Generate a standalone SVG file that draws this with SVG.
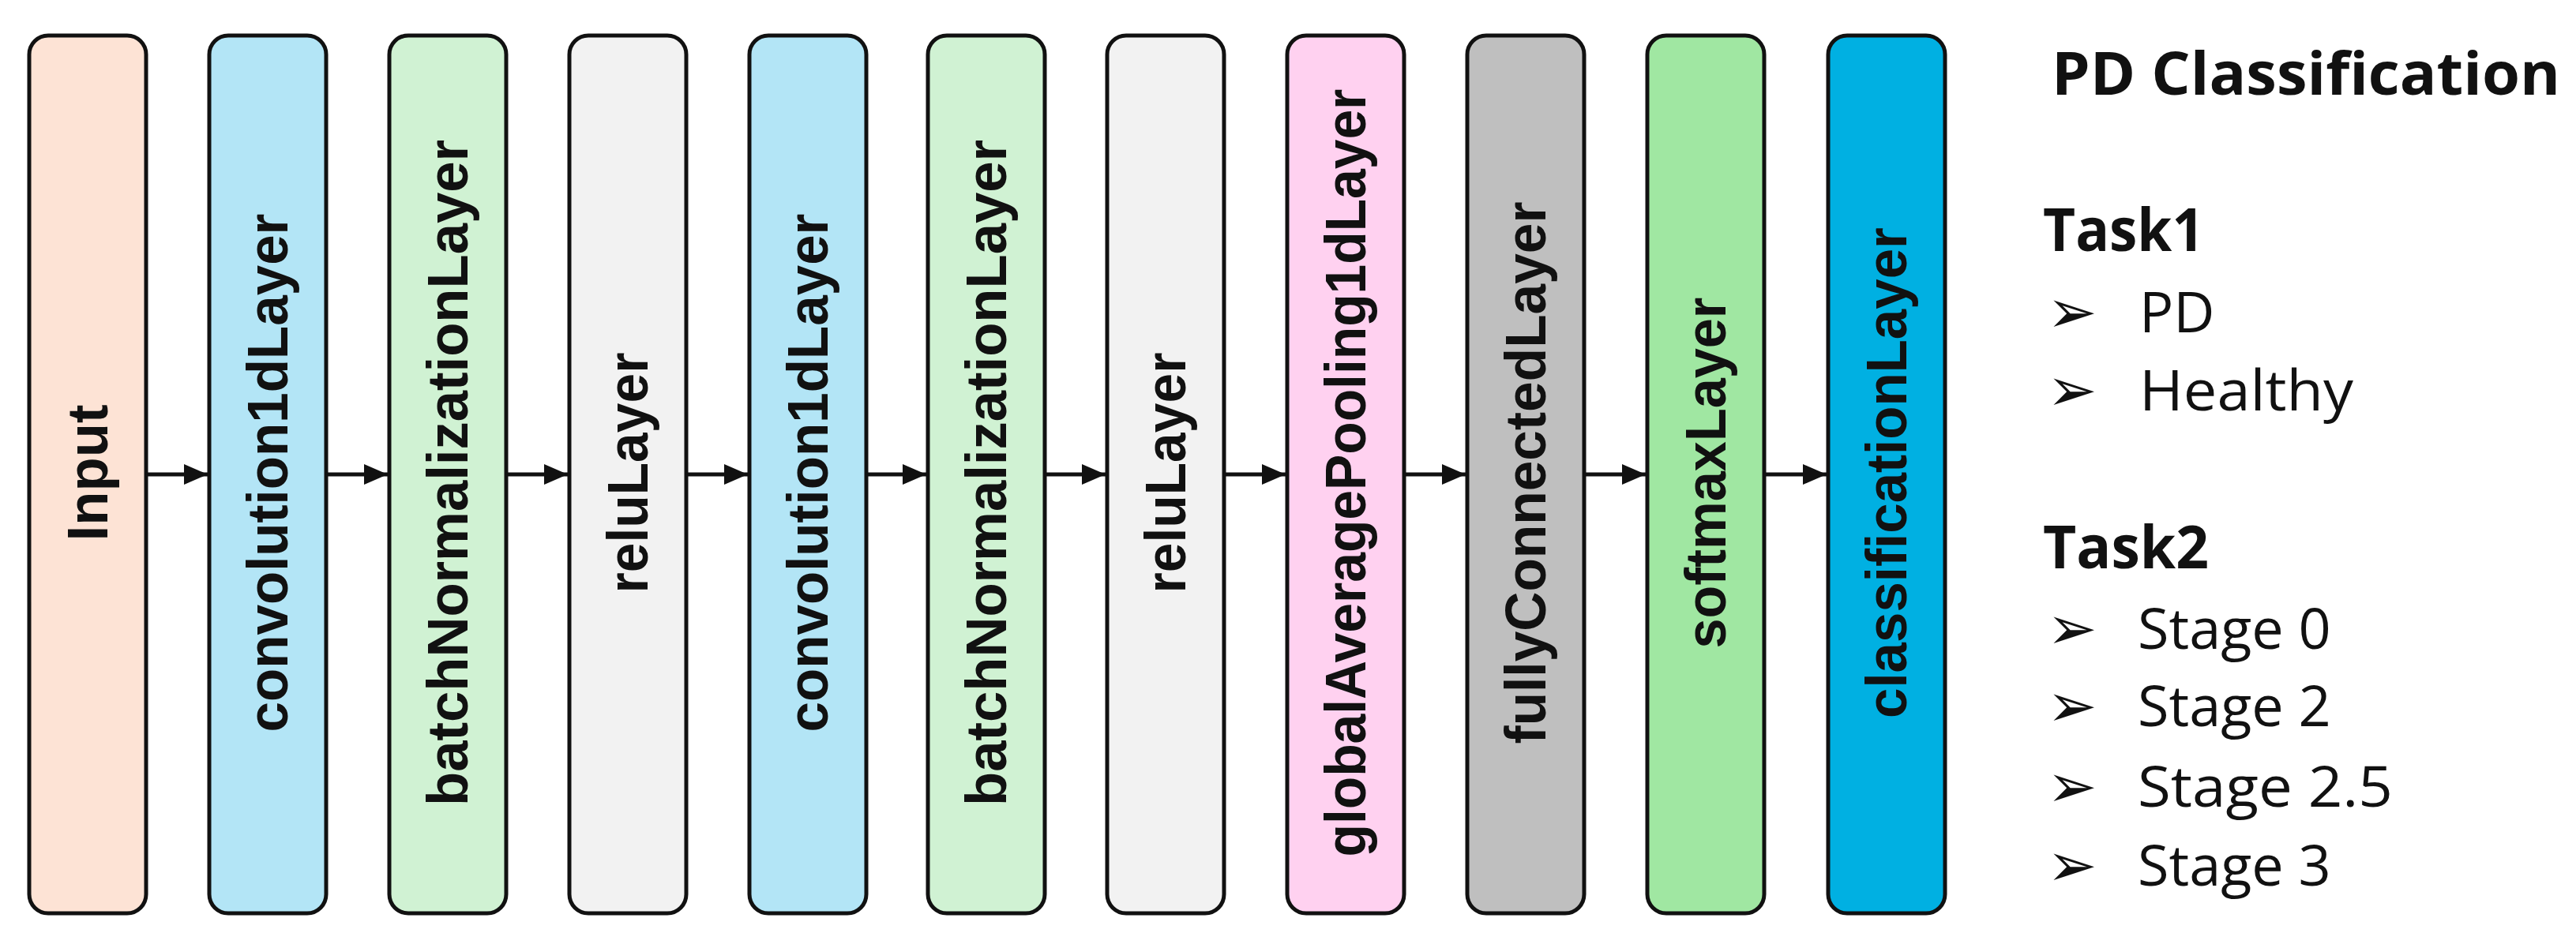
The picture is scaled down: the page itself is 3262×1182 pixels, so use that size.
<svg xmlns="http://www.w3.org/2000/svg" width="3262" height="1182" viewBox="0 0 3262 1182">
<style>
.box{stroke:#111;stroke-width:5}
.lbl{font-family:"Liberation Sans",Arial,sans-serif;font-weight:bold;font-size:72px;fill:#111;text-anchor:middle}
.con{stroke:#111;stroke-width:5;fill:none}
.h{font-family:"Open Sans","Liberation Sans",sans-serif;font-weight:bold;font-size:76px;fill:#111}
.t{font-family:"Open Sans","Liberation Sans",sans-serif;font-size:72px;fill:#111}
.b{font-family:"DejaVu Sans",sans-serif;font-size:76px;fill:#111}
</style>
<defs>
<marker id="ah" viewBox="0 0 10 10" refX="10" refY="5" markerWidth="30" markerHeight="26" markerUnits="userSpaceOnUse" orient="auto" preserveAspectRatio="none">
<path d="M0,0 L10,5 L0,10 Z" fill="#111"/>
</marker>
</defs>
<rect width="3262" height="1182" fill="#fff"/>
<g id="n0"><rect class="box" x="37" y="45" width="148" height="1112" rx="24" fill="#FDE3D5"/><text class="lbl" transform="translate(136,599) rotate(-90)" textLength="173" lengthAdjust="spacingAndGlyphs">Input</text></g>
<g id="n1"><rect class="box" x="265" y="45" width="148" height="1112" rx="24" fill="#B3E5F6"/><text class="lbl" transform="translate(364,599) rotate(-90)" textLength="657" lengthAdjust="spacingAndGlyphs">convolution1dLayer</text></g>
<g id="n2"><rect class="box" x="493" y="45" width="148" height="1112" rx="24" fill="#D0F2D3"/><text class="lbl" transform="translate(592,599) rotate(-90)" textLength="844" lengthAdjust="spacingAndGlyphs">batchNormalizationLayer</text></g>
<g id="n3"><rect class="box" x="721" y="45" width="148" height="1112" rx="24" fill="#F2F2F2"/><text class="lbl" transform="translate(820,599) rotate(-90)" textLength="305" lengthAdjust="spacingAndGlyphs">reluLayer</text></g>
<g id="n4"><rect class="box" x="949" y="45" width="148" height="1112" rx="24" fill="#B3E5F6"/><text class="lbl" transform="translate(1048,599) rotate(-90)" textLength="657" lengthAdjust="spacingAndGlyphs">convolution1dLayer</text></g>
<g id="n5"><rect class="box" x="1175" y="45" width="148" height="1112" rx="24" fill="#D0F2D3"/><text class="lbl" transform="translate(1274,599) rotate(-90)" textLength="844" lengthAdjust="spacingAndGlyphs">batchNormalizationLayer</text></g>
<g id="n6"><rect class="box" x="1402" y="45" width="148" height="1112" rx="24" fill="#F2F2F2"/><text class="lbl" transform="translate(1501,599) rotate(-90)" textLength="305" lengthAdjust="spacingAndGlyphs">reluLayer</text></g>
<g id="n7"><rect class="box" x="1630" y="45" width="148" height="1112" rx="24" fill="#FFD1F0"/><text class="lbl" transform="translate(1729,599) rotate(-90)" textLength="973" lengthAdjust="spacingAndGlyphs">globalAveragePooling1dLayer</text></g>
<g id="n8"><rect class="box" x="1858" y="45" width="148" height="1112" rx="24" fill="#BFBFBF"/><text class="lbl" transform="translate(1957,599) rotate(-90)" textLength="687" lengthAdjust="spacingAndGlyphs">fullyConnectedLayer</text></g>
<g id="n9"><rect class="box" x="2086" y="45" width="148" height="1112" rx="24" fill="#A0E7A2"/><text class="lbl" transform="translate(2185,599) rotate(-90)" textLength="445" lengthAdjust="spacingAndGlyphs">softmaxLayer</text></g>
<g id="n10"><rect class="box" x="2315" y="45" width="148" height="1112" rx="24" fill="#00B0E2"/><text class="lbl" transform="translate(2414,599) rotate(-90)" textLength="622" lengthAdjust="spacingAndGlyphs">classificationLayer</text></g>
<g id="connectors">
<line class="con" x1="187" y1="601" x2="263" y2="601" marker-end="url(#ah)"/>
<line class="con" x1="415" y1="601" x2="491" y2="601" marker-end="url(#ah)"/>
<line class="con" x1="643" y1="601" x2="719" y2="601" marker-end="url(#ah)"/>
<line class="con" x1="871" y1="601" x2="947" y2="601" marker-end="url(#ah)"/>
<line class="con" x1="1099" y1="601" x2="1173" y2="601" marker-end="url(#ah)"/>
<line class="con" x1="1325" y1="601" x2="1400" y2="601" marker-end="url(#ah)"/>
<line class="con" x1="1552" y1="601" x2="1628" y2="601" marker-end="url(#ah)"/>
<line class="con" x1="1780" y1="601" x2="1856" y2="601" marker-end="url(#ah)"/>
<line class="con" x1="2008" y1="601" x2="2084" y2="601" marker-end="url(#ah)"/>
<line class="con" x1="2236" y1="601" x2="2313" y2="601" marker-end="url(#ah)"/>
</g>
<g id="legend">
<text class="h" x="2598" y="120" textLength="644" lengthAdjust="spacingAndGlyphs">PD Classification</text>
<text class="h" x="2587" y="318" textLength="204" lengthAdjust="spacingAndGlyphs">Task1</text>
<text class="b" x="2592" y="421">➢</text><text class="t" x="2709" y="421">PD</text>
<text class="b" x="2592" y="520">➢</text><text class="t" x="2709" y="520" textLength="271" lengthAdjust="spacingAndGlyphs">Healthy</text>
<text class="h" x="2587" y="720" textLength="210" lengthAdjust="spacingAndGlyphs">Task2</text>
<text class="b" x="2592" y="822">➢</text><text class="t" x="2707" y="822">Stage 0</text>
<text class="b" x="2592" y="920">➢</text><text class="t" x="2707" y="920">Stage 2</text>
<text class="b" x="2592" y="1022">➢</text><text class="t" x="2707" y="1022" textLength="323" lengthAdjust="spacingAndGlyphs">Stage 2.5</text>
<text class="b" x="2592" y="1122">➢</text><text class="t" x="2707" y="1122">Stage 3</text>
</g>
</svg>
